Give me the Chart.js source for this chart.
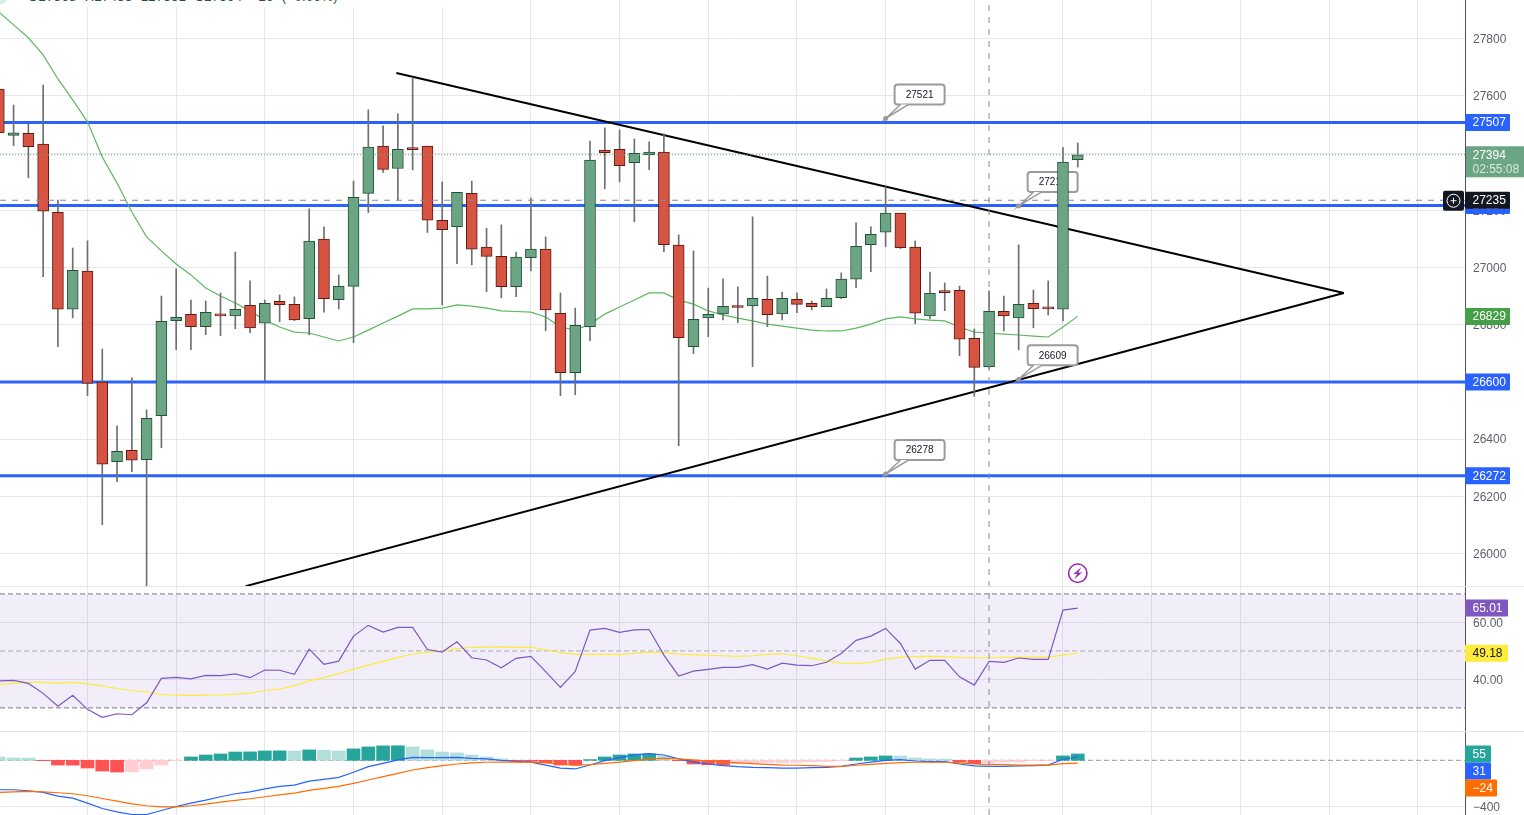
<!DOCTYPE html>
<html>
<head>
<meta charset="utf-8">
<title>BTC chart</title>
<script src="https://cdn.jsdelivr.net/npm/chart.js@4/dist/chart.umd.js"></script>
<style>
  html, body { margin: 0; padding: 0; background: #fff; overflow: hidden; }
  #wrap { position: relative; width: 1524px; height: 815px; overflow: hidden; }
  canvas { position: absolute; left: 0; }
  #priceChart { top: 0; }
  #rsiChart { top: 587px; }
  #macdChart { top: 731px; }
  .sep { position: absolute; left: 0; width: 1524px; height: 1px; background: #e3e3ea; }
  #legend { position: absolute; left: 0; top: 0; width: 460px; height: 7px; background: #fff; overflow: hidden; }
  #legend span { position: absolute; left: 28px; top: -11px; font: 13px "Liberation Sans"; color: #225437; white-space: pre; letter-spacing: .4px; }
  #legend i { position: absolute; left: -7px; top: -10px; width: 15px; height: 14px; border-radius: 50%; background: #d9f0ea; }
</style>
</head>
<body>
<div id="wrap">
  <canvas id="priceChart" width="1524" height="587"></canvas>
  <canvas id="rsiChart" width="1524" height="144"></canvas>
  <canvas id="macdChart" width="1524" height="84"></canvas>
  <div class="sep" style="top:586px"></div>
  <div class="sep" style="top:731px"></div>
  <div id="legend"><i></i><span>O27368  H27435  L27351  C27394  +26  (+0.09%)</span></div>
</div>
<script>
// candles
const opens = [27624,27462,27469,27431,27193,26854,26987,26599,26321,26361,26328,26482,26814,26836,26793,26837,26831,26868,26805,26882,26871,26821,27099,26887,26934,27259,27424,27346,27417,27424,27165,27143,27259,27071,27039,26933,27034,27064,26840,26632,26793,27410,27413,27366,27394,27403,27078,26723,26824,26838,26861,26866,26889,26838,26889,26875,26863,26894,26959,27080,27123,27190,27071,26831,26913,26920,26752,26653,26847,26824,26875,26856,26854,27377];
const highs = [27638,27568,27502,27638,27236,27068,27093,26715,26446,26614,26502,26900,26995,26886,26883,26911,27054,26953,26886,26904,26897,27205,27142,26974,27302,27551,27495,27537,27664,27424,27299,27263,27302,27137,27149,27054,27243,27107,26911,26858,27442,27488,27481,27449,27439,27467,27114,27058,26928,26960,26932,27177,26970,26914,26911,26883,26925,26981,27156,27142,27282,27190,27093,26984,26946,26935,26785,26918,26900,27079,26921,26953,27419,27435];
const lows = [27456,27426,27314,26968,26723,26824,26552,26101,26251,26286,25880,26370,26713,26713,26765,26762,26786,26772,26601,26810,26814,26765,26844,26855,26737,27192,27332,27236,27341,27122,26869,27013,27009,26915,26894,26898,26988,26779,26552,26555,26744,27275,27299,27160,27342,27055,26377,26699,26758,26817,26807,26653,26793,26817,26842,26852,26863,26891,26929,26985,27073,27066,26803,26821,26849,26692,26550,26646,26778,26712,26789,26834,26813,27351];
const closes = [27470,27471,27422,27197,26854,26990,26595,26312,26357,26326,26473,26812,26826,26793,26843,26831,26854,26789,26875,26870,26817,27092,26891,26934,27245,27421,27343,27413,27412,27165,27132,27263,27064,27039,26933,27036,27064,26852,26632,26798,27375,27401,27356,27399,27403,27080,26755,26819,26836,26864,26860,26892,26835,26892,26871,26863,26892,26959,27074,27116,27190,27069,26840,26910,26912,26749,26651,26847,26831,26871,26856,26855,27368,27394];
const ma = [27893,27848,27803,27743,27659,27586,27509,27386,27295,27194,27107,27058,27012,26974,26928,26900,26876,26848,26816,26792,26774,26771,26757,26743,26757,26781,26806,26830,26855,26855,26858,26869,26865,26858,26848,26846,26844,26827,26792,26781,26802,26837,26862,26886,26911,26911,26886,26872,26848,26834,26823,26813,26802,26795,26788,26781,26778,26778,26788,26802,26820,26827,26820,26816,26813,26792,26774,26771,26767,26764,26760,26757,26792,26829];

// drawings on the price pane
const levelPrices = [27507,27217,26600,26272];
const lastPrice = 27394;
const countdown = '02:55:08';
const crossPrice = 27235;
const crossIdx = 67;
const upperTrendIdx = [26.9,91];
const upperTrendVal = [27680,26911];
const lowerTrendIdx = [16.7,91];
const lowerTrendVal = [25886,26911];
const calloutIdx = [60,69,69,60];
const calloutVal = [27521,27215,26609,26278];
const signalIdx = 73;
const signalVal = 25931;

// RSI pane
const rsi = [39.5,39.65,38.6,35.1,30.6,34.4,29.5,26.7,27.95,27.6,31.8,40.35,40.7,40.2,41.4,41.3,41.9,40.6,43.3,43.2,41.75,50.6,45.3,46.4,55.2,58.95,56.6,58.25,58.25,50.5,49.6,53.2,47.6,46.8,44.1,47.4,48.1,42.7,37.2,42.8,57.3,57.9,56.5,57.4,57.5,48.5,41.2,42.9,43.5,44.2,44.2,45.15,43.6,45.7,45,44.8,46,49.1,53.7,55.2,57.9,52.6,43.6,46.7,46.7,40.9,38,46.3,46,47.5,47,47,64.3,65.01];
const rsiMa = [38.25,38.6,38.95,38.95,38.7,38.95,38.4,37.7,36.8,36.1,35.6,34.7,34.5,34.4,34.5,34.6,34.85,35.2,36.1,36.6,37.8,39.5,40.6,42,43.6,45,46.3,47.7,48.9,49.6,49.8,50.8,51.2,51.35,51.5,51.2,51.35,50.4,49.4,48.8,48.8,48.8,48.7,49.2,49.6,49.4,48.9,48.7,48.4,48.3,48.1,48.3,48.8,49,48.3,47.4,46.4,45.7,45.5,46,47.1,47.8,48,48.1,48,47.7,47.6,47.6,47.7,47.8,47.8,47.8,48.5,49.18];
const rsiLevels = [70,50,30];

// MACD pane
const hist = [29,20,19,-3,-41,-42,-67,-93,-102,-100,-75,-41,-3,29,46,55,72,73,81,82,80,90,88,81,99,116,125,126,116,90,72,64,46,29,12,-6,-10,-20,-41,-42,6,29,46,55,56,38,-3,-32,-38,-41,-29,-20,-19,-18,-17,-12,-10,-3,20,29,38,37,20,12,11,-15,-29,-20,-15,-14,-3,-2,38,55];
const macd = [-255,-255,-264,-278,-310,-328,-371,-418,-447,-470,-470,-435,-400,-371,-345,-316,-290,-273,-247,-226,-215,-180,-165,-148,-104,-55,-26,3,26,23,23,26,17,12,0,-9,-15,-41,-67,-75,-41,-3,23,46,58,46,12,-15,-32,-46,-55,-61,-64,-67,-67,-64,-61,-52,-32,-15,0,6,-6,-12,-12,-32,-49,-52,-52,-49,-46,-41,9,31];
const signal = [-278,-273,-270,-273,-281,-290,-307,-331,-354,-377,-394,-403,-403,-394,-380,-362,-348,-333,-316,-299,-284,-261,-244,-226,-200,-171,-142,-113,-84,-64,-46,-32,-23,-17,-15,-15,-17,-23,-32,-43,-38,-26,-15,-3,12,17,12,3,-6,-15,-23,-29,-35,-41,-43,-46,-52,-52,-43,-35,-26,-20,-17,-17,-17,-23,-32,-35,-38,-41,-41,-41,-29,-24];

// axis ticks
const gridIdx = [6,12,18,24,30,36,42,48,54,60,66,72,78,84,90,96];
const priceTicks = [27800,27600,27400,27200,27000,26800,26600,26400,26200,26000];
const rsiTicks = [60,40];
const macdTicks = [-400];

const xMin = 0.081, xMax = 99.2;
const gridColor = '#e6e6eb';
const axisFont = { family: 'Liberation Sans', size: 12 };
const blue = '#2962ff', upFill = '#6ba583', downFill = '#d75442';

const pts = (xs, ys) => xs.map((x, i) => ({ x: x, y: ys[i] }));
const series = ys => ys.map((y, i) => ({ x: i, y: y }));

function hline(value, color, width, dash, order) {
  return { type: 'line', data: pts([xMin, xMax], [value, value]), borderColor: color, borderWidth: width, borderDash: dash, pointRadius: 0, order: order };
}
function vline(idx, lo, hi) {
  return { type: 'line', data: pts([idx, idx], [lo, hi]), borderColor: '#8a8c96', borderWidth: 1, borderDash: [6, 6], pointRadius: 0, order: 0 };
}
function curve(values, color, width, order) {
  return { type: 'line', data: series(values), borderColor: color, borderWidth: width, pointRadius: 0, tension: 0, order: order };
}

function xAxis() {
  return {
    type: 'linear', min: xMin, max: xMax, offset: false,
    grid: { color: gridColor, offset: false, drawTicks: false },
    border: { display: false },
    ticks: { display: false },
    afterBuildTicks: s => { s.ticks = gridIdx.map(v => ({ value: v })); },
    afterFit: s => { s.height = 0; }
  };
}
function yAxis(min, max, ticks, fmt) {
  return {
    position: 'right', min: min, max: max,
    grid: { color: gridColor, drawTicks: false },
    border: { display: true, color: '#50535e' },
    ticks: { padding: 8, labelOffset: 1, color: '#5d606b', font: axisFont, callback: fmt },
    afterBuildTicks: s => { s.ticks = ticks.map(v => ({ value: v })); },
    // the tick padding otherwise also insets the pane top and bottom
    afterFit: s => { s.width = 59; s.paddingTop = 0; s.paddingBottom = 0; }
  };
}
function baseOptions(x, y) {
  return {
    responsive: false, animation: false, events: [],
    layout: { padding: 0, autoPadding: false },
    plugins: { legend: { display: false }, tooltip: { enabled: false } },
    scales: { x: x, y: y }
  };
}

function drawTag(ctx, y, text, bg, fg, right) {
  ctx.fillStyle = bg;
  ctx.beginPath();
  ctx.roundRect(1465, y - 8.5, (right || 1510) - 1465, 17, 1);
  ctx.fill();
  ctx.fillStyle = fg;
  ctx.font = '12px "Liberation Sans"';
  ctx.textAlign = 'left';
  ctx.textBaseline = 'middle';
  ctx.fillText(text, 1472.5, y + 0.5);
}

function drawCallout(ctx, ax, ay, text) {
  const bx = ax + 9, by = ay - 34, w = 50, h = 20;
  ctx.lineWidth = 2;
  ctx.strokeStyle = '#9b9b9b';
  ctx.fillStyle = '#fff';
  ctx.beginPath();
  ctx.roundRect(bx, by, w, h, 3);
  ctx.fill();
  ctx.stroke();
  ctx.beginPath();
  ctx.moveTo(bx + 6, by + h);
  ctx.lineTo(ax, ay);
  ctx.lineTo(bx + 14, by + h);
  ctx.fill();
  ctx.lineWidth = 1.5;
  ctx.stroke();
  ctx.fillStyle = '#9b9b9b';
  ctx.beginPath();
  ctx.arc(ax, ay, 2.5, 0, Math.PI * 2);
  ctx.fill();
  ctx.fillStyle = '#131722';
  ctx.font = '10px "Liberation Sans"';
  ctx.textAlign = 'center';
  ctx.textBaseline = 'middle';
  ctx.fillText(text, bx + w / 2, by + h / 2 + 0.5);
}

// callouts sit above the lines but under the candles
const calloutPlugin = {
  id: 'callouts',
  beforeDatasetDraw(chart, args) {
    if (args.index !== 1) return;
    const ctx = chart.ctx;
    ctx.save();
    calloutIdx.forEach((idx, i) => {
      drawCallout(ctx, chart.scales.x.getPixelForValue(idx), chart.scales.y.getPixelForValue(calloutVal[i]), String(calloutVal[i]));
    });
    ctx.restore();
  }
};

const pricePlugin = {
  id: 'priceTags',
  afterDraw(chart) {
    const ctx = chart.ctx, y = chart.scales.y, x = chart.scales.x;
    ctx.save();
    levelPrices.forEach(p => drawTag(ctx, y.getPixelForValue(p), String(p), blue, '#fff'));
    drawTag(ctx, y.getPixelForValue(ma[ma.length - 1]), String(ma[ma.length - 1]), '#43a047', '#fff');

    // last price with countdown
    const ly = y.getPixelForValue(lastPrice);
    ctx.fillStyle = upFill;
    ctx.fillRect(1466, ly - 8.5, 58, 31);
    ctx.fillStyle = '#fff';
    ctx.font = '12px "Liberation Sans"';
    ctx.textAlign = 'left';
    ctx.textBaseline = 'middle';
    ctx.fillText(String(lastPrice), 1472.5, ly + 0.5);
    ctx.fillStyle = 'rgba(255,255,255,0.75)';
    ctx.fillText(countdown, 1472.5, ly + 14.5);

    // crosshair label and plus button
    const cy = y.getPixelForValue(crossPrice);
    drawTag(ctx, cy, String(crossPrice), '#131722', '#fff');
    ctx.fillStyle = '#131722';
    ctx.beginPath();
    ctx.roundRect(1443, cy - 9.5, 21, 20, 2);
    ctx.fill();
    ctx.strokeStyle = '#fff';
    ctx.lineWidth = 1;
    ctx.beginPath();
    ctx.arc(1453.5, cy + 0.5, 6.5, 0, Math.PI * 2);
    ctx.moveTo(1450.5, cy + 0.5);
    ctx.lineTo(1456.5, cy + 0.5);
    ctx.moveTo(1453.5, cy - 2.5);
    ctx.lineTo(1453.5, cy + 3.5);
    ctx.stroke();

    // bolt marker
    const sx = x.getPixelForValue(signalIdx), sy = y.getPixelForValue(signalVal);
    ctx.strokeStyle = '#9c27b0';
    ctx.fillStyle = '#9c27b0';
    ctx.lineWidth = 1.6;
    ctx.beginPath();
    ctx.arc(sx, sy, 9.2, 0, Math.PI * 2);
    ctx.stroke();
    ctx.beginPath();
    ctx.moveTo(sx + 3.5, sy - 6);
    ctx.lineTo(sx - 4.5, sy + 1);
    ctx.lineTo(sx - 0.5, sy + 0.5);
    ctx.lineTo(sx - 3.5, sy + 6);
    ctx.lineTo(sx + 4.5, sy - 1);
    ctx.lineTo(sx + 0.5, sy - 0.5);
    ctx.closePath();
    ctx.fill();
    ctx.restore();
  }
};

const rsiPlugin = {
  id: 'rsiTags',
  afterDraw(chart) {
    const y = chart.scales.y;
    chart.ctx.save();
    drawTag(chart.ctx, y.getPixelForValue(rsi[rsi.length - 1]), rsi[rsi.length - 1].toFixed(2), '#7e57c2', '#fff', 1508);
    drawTag(chart.ctx, y.getPixelForValue(rsiMa[rsiMa.length - 1]), rsiMa[rsiMa.length - 1].toFixed(2), '#ffeb3b', '#131722', 1508);
    chart.ctx.restore();
  }
};

const macdPlugin = {
  id: 'macdTags',
  afterDraw(chart) {
    const y0 = chart.scales.y.getPixelForValue(hist[hist.length - 1]);
    const ctx = chart.ctx;
    ctx.save();
    drawTag(ctx, y0, String(hist[hist.length - 1]), '#26a69a', '#fff', 1491);
    drawTag(ctx, y0 + 17, String(macd[macd.length - 1]), blue, '#fff', 1491);
    drawTag(ctx, y0 + 34, '\u2212' + Math.abs(signal[signal.length - 1]), '#ff6d00', '#fff', 1497);
    ctx.restore();
  }
};

const isUp = i => closes[i] >= opens[i];
const priceMax = 27935, priceMin = 25883;

new Chart(document.getElementById('priceChart'), {
  type: 'bar',
  data: {
    datasets: [
      {
        // draw order comes from `order`, not from the position here
        data: opens.map((o, i) => ({ x: i, y: [o, closes[i]] })),
        barThickness: 11, grouped: false, minBarLength: 2, borderWidth: 1, borderSkipped: false,
        backgroundColor: opens.map((o, i) => isUp(i) ? upFill : downFill),
        borderColor: opens.map((o, i) => isUp(i) ? '#225437' : '#5b1a13'),
        order: 1
      },
      {
        data: highs.map((h, i) => ({ x: i, y: [lows[i], h] })),
        barThickness: 1, grouped: false, backgroundColor: '#6f6f72', borderWidth: 0,
        order: 2
      },
      curve(ma, '#5cb85f', 1.2, 3),
      { type: 'line', data: pts(upperTrendIdx, upperTrendVal), borderColor: '#000', borderWidth: 2, pointRadius: 0, order: 4 },
      { type: 'line', data: pts(lowerTrendIdx, lowerTrendVal), borderColor: '#000', borderWidth: 2, pointRadius: 0, order: 4 },
      ...levelPrices.map(p => hline(p, blue, 3, [], 5)),
      hline(lastPrice, upFill, 1, [1, 2], 0),
      hline(crossPrice, '#8a8c96', 1, [6, 6], 0),
      vline(crossIdx, priceMin, priceMax)
    ]
  },
  options: baseOptions(xAxis(), yAxis(priceMin, priceMax, priceTicks, v => String(v))),
  plugins: [calloutPlugin, pricePlugin]
});

new Chart(document.getElementById('rsiChart'), {
  type: 'line',
  data: {
    datasets: [
      Object.assign(hline(rsiLevels[0], '#787b86', 1, [5, 3], 5), { fill: { target: { value: rsiLevels[2] } }, backgroundColor: 'rgba(126,87,194,0.1)' }),
      hline(rsiLevels[1], '#b2b5be', 1, [5, 3], 5),
      hline(rsiLevels[2], '#787b86', 1, [5, 3], 5),
      curve(rsiMa, '#ffeb3b', 1.2, 2),
      curve(rsi, '#7e57c2', 1.2, 1),
      vline(crossIdx, 21.89, 72.42)
    ]
  },
  options: baseOptions(xAxis(), yAxis(21.89, 72.42, rsiTicks, v => v.toFixed(2))),
  plugins: [rsiPlugin]
});

new Chart(document.getElementById('macdChart'), {
  type: 'bar',
  data: {
    datasets: [
      {
        data: series(hist),
        barThickness: 13, grouped: false, borderWidth: 0,
        backgroundColor: hist.map((v, i) => {
          const rising = i > 0 && v > hist[i - 1];
          if (v >= 0) return rising ? '#26a69a' : '#b2dfdb';
          return rising ? '#ffcdd2' : '#ff5252';
        }),
        order: 3
      },
      curve(signal, '#ff6d00', 1.2, 1),
      curve(macd, '#2962ff', 1.2, 2),
      hline(0, '#9598a1', 1, [5, 3], 4),
      vline(crossIdx, -474, 254)
    ]
  },
  options: baseOptions(xAxis(), yAxis(-474, 254, macdTicks, v => '\u2212' + Math.abs(v))),
  plugins: [macdPlugin]
});
</script>
</body>
</html>
